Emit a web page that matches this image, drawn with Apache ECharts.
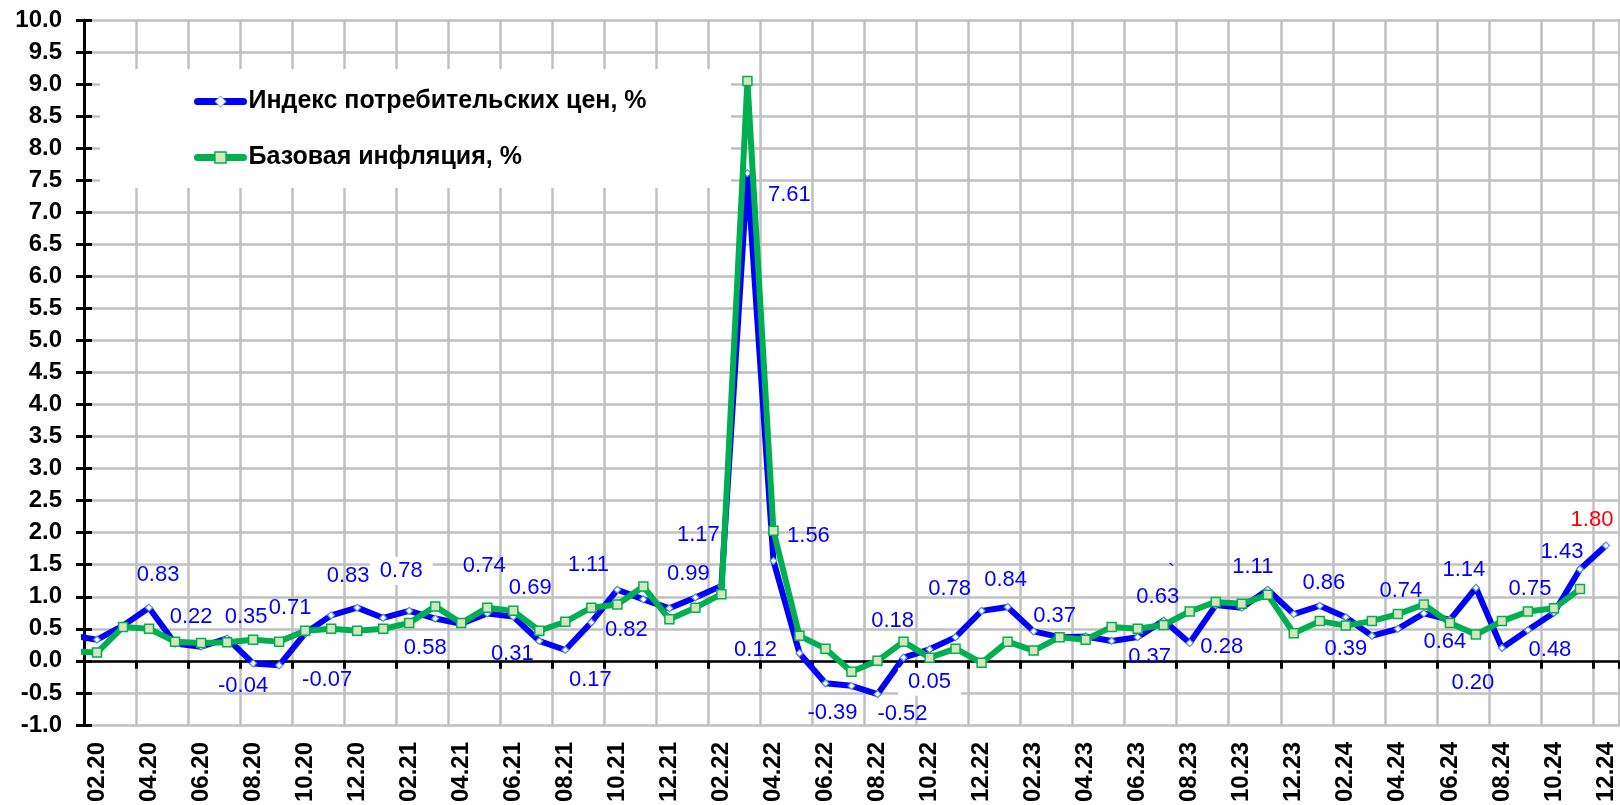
<!DOCTYPE html>
<html>
<head>
<meta charset="utf-8">
<script src="https://cdn.jsdelivr.net/npm/echarts@6/dist/echarts.min.js"></script>
<style>
html,body{margin:0;padding:0;background:#fff;}
#chart{width:1620px;height:805px;}
</style>
</head>
<body>
<div id="chart"></div>
<script>
// ---- data ----
// 01.20 lies just left of the visible range; its line segment is clipped at the axis
const months = [
 '01.20','02.20','03.20','04.20','05.20','06.20','07.20','08.20','09.20','10.20','11.20','12.20',
 '01.21','02.21','03.21','04.21','05.21','06.21','07.21','08.21','09.21','10.21','11.21','12.21',
 '01.22','02.22','03.22','04.22','05.22','06.22','07.22','08.22','09.22','10.22','11.22','12.22',
 '01.23','02.23','03.23','04.23','05.23','06.23','07.23','08.23','09.23','10.23','11.23','12.23',
 '01.24','02.24','03.24','04.24','05.24','06.24','07.24','08.24','09.24','10.24','11.24','12.24'
];
const cpi = [
 0.40,0.33,0.55,0.83,0.27,0.22,0.35,-0.04,-0.07,0.43,0.71,0.83,
 0.67,0.78,0.66,0.58,0.74,0.69,0.31,0.17,0.60,1.11,0.96,0.82,
 0.99,1.17,7.61,1.56,0.12,-0.35,-0.39,-0.52,0.05,0.18,0.37,0.78,
 0.84,0.46,0.37,0.38,0.31,0.37,0.63,0.28,0.87,0.83,1.11,0.73,
 0.86,0.68,0.39,0.50,0.74,0.64,1.14,0.20,0.48,0.75,1.43,1.80
];
const core = [
 0.15,0.13,0.53,0.50,0.30,0.28,0.29,0.33,0.30,0.47,0.50,0.47,
 0.50,0.59,0.85,0.59,0.83,0.78,0.47,0.61,0.83,0.88,1.16,0.65,
 0.83,1.04,9.05,2.03,0.39,0.19,-0.17,0.00,0.30,0.05,0.19,-0.03,
 0.30,0.16,0.37,0.33,0.53,0.50,0.56,0.77,0.92,0.89,1.03,0.43,
 0.62,0.55,0.62,0.73,0.88,0.59,0.41,0.62,0.77,0.82,1.12,null
];
const seriesNames = ['Индекс потребительских цен, %','Базовая инфляция, %'];
const firstShown = 1; // 02.20

// ---- label placement (style only): month label -> [dx, dy, variant] ----
const labelPlace = {
 '04.20':[9,-33],'06.20':[-10,-30],'07.20':[19,-21],'08.20':[-10,23],'09.20':[48,15],
 '11.20':[-41,-7],'12.20':[-9,-32],'02.21':[-8,-40,'bg'],'04.21':[-36,24],'05.21':[-3,-47],
 '06.21':[17,-29],'07.21':[-27,13],'08.21':[25,30],'10.21':[-29,-25],'12.21':[-43,22],
 '01.22':[-7,-23],'02.22':[-23,-51],'03.22':[42,22],'04.22':[35,-25],'05.22':[-44,-3],
 '07.22':[-19,27],'08.22':[25,20],'09.22':[26,24,'bg'],'10.22':[-37,-28],'12.22':[-32,-22],
 '01.23':[-2,-27],'03.23':[-5,-21],'06.23':[12,20],'07.23':[-6,-24],'08.23':[32,4],
 '11.23':[-15,-23],'01.24':[4,-23],'03.24':[-26,13],'05.24':[-23,-22],'06.24':[-5,22],
 '07.24':[-12,-18],'08.24':[-29,35],'09.24':[22,20],'10.24':[-24,-24],'11.24':[-18,-17],
 '12.24':[-14,-26,'red']
};

const FONT = '"Liberation Sans", Arial, sans-serif';

const cpiData = cpi.map((v,i)=>{
  if(i < firstShown) return {value:v, symbol:'none', label:{show:false}};
  const p = labelPlace[months[i]];
  if(!p) return {value:v, label:{show:false}};
  const lab = {show:true, position:'inside', offset:[p[0],p[1]],
    formatter: (x)=>Number(x.value).toFixed(2),
    color: p[2]==='red' ? '#ff0000' : '#0000ff',
    fontFamily: FONT, fontSize: 22};
  if(p[2]==='bg'){ lab.backgroundColor='#ffffff'; lab.padding=[3,10,3,10]; }
  return {value:v, label:lab};
});
const coreData = core.map((v,i)=> i < firstShown ? {value:v, symbol:'none'} : v);

// show every second month starting at 02.20
const everyOther = (idx)=> (idx - firstShown) % 2 === 0;

const chart = echarts.init(document.getElementById('chart'), null, {renderer:'canvas'});
const gridColor = '#c0c0c0';

chart.setOption({
  animation:false,
  backgroundColor:'#ffffff',
  grid:{left:84, right:1, top:20, bottom:71, containLabel:false},
  legend:{
    orient:'vertical', left:189, top:84, itemGap:31,
    itemWidth:46, itemHeight:14,
    data:[
      {name:seriesNames[0], itemStyle:{color:'#ffffff', borderColor:'#5b8fd6', borderWidth:1}, lineStyle:{color:'#0000ff', width:7, cap:'round'}},
      {name:seriesNames[1], itemStyle:{color:'#d7e4bd', borderColor:'#00b050', borderWidth:1.5}, lineStyle:{color:'#00b050', width:7, cap:'round'}}
    ],
    textStyle:{fontFamily:FONT, fontWeight:'bold', fontSize:25, color:'#000'}
  },
  graphic:[
    {type:'rect', z:1, shape:{x:100,y:69,width:631,height:119}, style:{fill:'#ffffff'}},
    {type:'text', z:5, x:1168, y:562, style:{text:'`', fill:'#0000ff', font:'20px "Liberation Sans", Arial'}}
  ],
  xAxis:[
    {
      type:'category', data:months, boundaryGap:true,
      min:firstShown, max:months.length-1,
      axisLine:{onZero:true, lineStyle:{color:'#000', width:2.5}},
      axisTick:{show:true, interval:everyOther, length:8, lineStyle:{color:'#000', width:3}},
      axisLabel:{show:false, interval:everyOther},
      splitLine:{show:true, interval:everyOther, lineStyle:{color:gridColor, width:2.5}}
    },
    {
      type:'category', data:months, boundaryGap:true, position:'bottom',
      min:firstShown, max:months.length-1,
      axisLine:{show:false, onZero:false},
      axisTick:{show:false},
      axisLabel:{show:true, interval:everyOther, rotate:90, margin:17,
        fontFamily:FONT, fontWeight:'bold', fontSize:24, color:'#000'},
      splitLine:{show:false}
    }
  ],
  yAxis:[
    {
      type:'value', min:-1, max:10, interval:0.5, position:'left',
      axisLine:{show:true, lineStyle:{color:'#000', width:3}},
      axisTick:{show:true, length:8, lineStyle:{color:'#000', width:3}},
      axisLabel:{margin:22, formatter:(v)=>v.toFixed(1),
        fontFamily:FONT, fontWeight:'bold', fontSize:24, color:'#000'},
      splitLine:{show:true, lineStyle:{color:gridColor, width:2.5}}
    },
    {
      type:'value', min:-1, max:10, interval:0.5, position:'right',
      axisLine:{show:true, lineStyle:{color:gridColor, width:2.5}},
      axisTick:{show:false}, axisLabel:{show:false}, splitLine:{show:false}
    },
    {
      type:'value', min:-1, max:10, interval:0.5, position:'left',
      axisLine:{show:false},
      axisTick:{show:true, inside:true, length:8, lineStyle:{color:'#000', width:3}},
      axisLabel:{show:false}, splitLine:{show:false}
    }
  ],
  series:[
    {
      name:seriesNames[0], type:'line', data:cpiData,
      xAxisIndex:0, yAxisIndex:0, clip:true,
      symbol:'diamond', symbolSize:7, showAllSymbol:true,
      lineStyle:{color:'#0000ff', width:6},
      itemStyle:{color:'#ffffff', borderColor:'#5b8fd6', borderWidth:1.2},
      z:2
    },
    {
      name:seriesNames[1], type:'line', data:coreData,
      xAxisIndex:0, yAxisIndex:0, clip:true,
      symbol:'rect', symbolSize:9, showAllSymbol:true,
      lineStyle:{color:'#00b050', width:6},
      itemStyle:{color:'#d7e4bd', borderColor:'#00b050', borderWidth:1.5},
      label:{show:false},
      z:3
    }
  ]
});
</script>
</body>
</html>
